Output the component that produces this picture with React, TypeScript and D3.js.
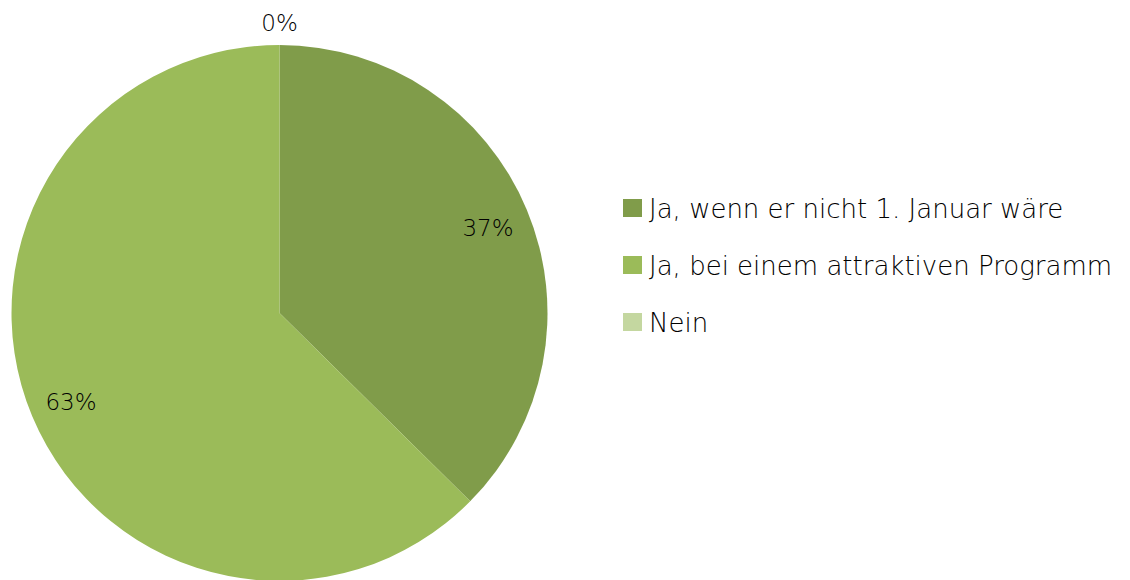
import React from "react";
import * as d3 from "d3";

const categories = ["Ja, wenn er nicht 1. Januar wäre", "Ja, bei einem attraktiven Programm", "Nein"];
const values = [37.4, 62.6, 0];
const labels = ["37%", "63%", "0%"];
const colors = ["#809c4a", "#9bbb59", "#c4d7a0"];

const W = 1130;
const H = 580;
const FONT = "'DejaVu Sans', sans-serif";

export default function App() {
  const cx = 279.5;
  const cy = 313;
  const r = 268;

  const pie = d3.pie<number>().sort(null).value(d => d);
  const arcs = pie(values);
  const arc = d3.arc<d3.PieArcDatum<number>>().innerRadius(0).outerRadius(r);
  const labelArc = d3.arc<d3.PieArcDatum<number>>().innerRadius(226).outerRadius(226);
  const outerArc = d3.arc<d3.PieArcDatum<number>>().innerRadius(r + 24).outerRadius(r + 24);

  const legendY = d3.scalePoint<string>().domain(categories).range([208, 322]);

  return (
    <svg width={W} height={H} style={{ position: "absolute", left: 0, top: 0 }}>
      <g transform={`translate(${cx},${cy})`}>
        {arcs.map((a, i) => (
          <path key={i} d={arc(a) || ""} fill={colors[i]} />
        ))}
        {arcs.map((a, i) => {
          const [x, y] = a.data === 0 ? outerArc.centroid(a) : labelArc.centroid(a);
          return (
            <text key={i} x={x} y={y + 2} dy="0.35em" textAnchor="middle" fontFamily={FONT} fontWeight={200}
              fontSize={23} fill="#000">{labels[i]}</text>
          );
        })}
      </g>
      <g>
        {categories.map((c, i) => (
          <g key={c} transform={`translate(623,${legendY(c)})`}>
            <rect x={0} y={-9} width={19} height={18} fill={colors[i]} />
            <text x={26} y={1} dy="0.35em" fontFamily={FONT} fontWeight={200} fontSize={26} fill="#000">{c}</text>
          </g>
        ))}
      </g>
    </svg>
  );
}
